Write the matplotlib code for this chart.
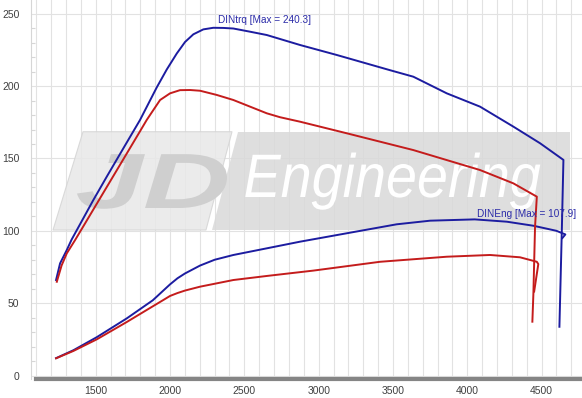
#!/usr/bin/env python3

# Dyno sheet: DIN torque / DIN power for two runs (blue = tuned, red = stock)

import numpy as np
import matplotlib
matplotlib.use("Agg")
import matplotlib.pyplot as plt
from matplotlib.textpath import TextPath
from matplotlib.patches import PathPatch, Polygon
from matplotlib.font_manager import FontProperties
from matplotlib.transforms import Affine2D
from matplotlib.ticker import MultipleLocator

plt.rcParams['font.family'] = ['Liberation Sans', 'DejaVu Sans']

# blue run, torque
rpm_trq_blue = [1233, 1260, 1305, 1338, 1484, 1574, 1700, 1798, 1910, 1978, 2045, 2101, 2157, 2224, 2291,
                2359, 2426, 2538, 2651, 2875, 3122, 3480, 3637, 3862, 4086, 4310, 4490, 4647, 4636, 4620]
trq_blue = [66, 77.5, 86.7, 94, 121.3, 137.4, 159.5, 176.6, 199, 211.5, 222.5, 230.5, 235.8, 239.2, 240.3,
            240.2, 239.8, 237.6, 235.3, 228.4, 221.5, 211, 206.5, 195, 185.8, 172, 160.5, 149, 99.4, 33.7]

# red run, torque
rpm_trq_red = [1238, 1270, 1305, 1361, 1417, 1529, 1650, 1798, 1843, 1865, 1933, 2000, 2067, 2135, 2202,
               2314, 2426, 2651, 2740, 2875, 3189, 3637, 4086, 4310, 4468, 4456, 4445, 4438]
trq_red = [64.8, 76, 84.4, 93.6, 103.2, 122.5, 143.3, 168.8, 176.6, 180, 190.4, 195, 197.2, 197.3, 196.8,
           193.9, 190.4, 181.2, 178.5, 175.4, 167.4, 155.8, 142, 132.8, 123.6, 102.8, 56.8, 37.2]

# blue run, power
rpm_pwr_blue = [1233, 1350, 1507, 1709, 1884, 2000, 2050, 2100, 2202, 2300, 2426, 2651, 2875, 3189, 3525,
                3750, 4050, 4266, 4445, 4600, 4660, 4640]
pwr_blue = [12, 17.5, 26.5, 39.5, 52, 63, 67.2, 70.5, 76, 80, 83.3, 87.9, 92.5, 98.3, 104.5,
            107, 107.9, 106.3, 103.5, 100, 97.5, 95]

# red run, power
rpm_pwr_red = [1233, 1350, 1507, 1709, 1843, 1955, 2000, 2050, 2100, 2202, 2426, 2651, 2964, 3413, 3862,
               4153, 4355, 4468, 4478, 4450]
pwr_red = [11.9, 17, 25, 37, 45.3, 52.2, 55, 57, 58.7, 61.4, 66, 68.8, 72.5, 78.6, 82.1,
           83.3, 81.7, 78.6, 77, 58]

x_ticks = [1500, 2000, 2500, 3000, 3500, 4000, 4500]
y_ticks = [0, 50, 100, 150, 200, 250]

BLUE = '#1c1ca0'
RED = '#c41c1c'


# Draws a stretched italic text shape into a box given in axes fraction
def logo_text(ax, s, x0, y0, w, h, weight, color):
    tp = TextPath((0, 0), s, size=1, prop=FontProperties(family='Liberation Sans', style='italic', weight=weight))
    bb = tp.get_extents()
    tr = Affine2D().translate(-bb.x0, 0).scale(w / bb.width, h / 0.716).translate(x0, y0) + ax.transAxes
    ax.add_patch(PathPatch(tp, transform=tr, fc=color, ec='none', zorder=1.5))


fig = plt.figure(figsize=(5.82, 3.98), dpi=100)
ax = fig.add_axes([30.5 / 582, 19 / 398, 1 - 30.5 / 582, 379 / 398])

ax.set_xlim(1061, 4772)
ax.set_ylim(-2.4, 259.5)

# watermark
ax.add_patch(Polygon([(0.0952, 0.6525), (0.3654, 0.6525), (0.3182, 0.3931), (0.0408, 0.3931)],
                     closed=True, transform=ax.transAxes, fc='#e8e8e8', ec='#d4d4d4', lw=0.8, alpha=0.85, zorder=1))
ax.add_patch(Polygon([(0.3763, 0.6525), (0.9782, 0.6525), (0.9782, 0.3931), (0.3291, 0.3931)],
                     closed=True, transform=ax.transAxes, fc='#d9d9d9', ec='none', alpha=0.85, zorder=1))
logo_text(ax, "JD", 0.0843, 0.4512, 0.272, 0.1478, 'bold', '#cfcfcf')
logo_text(ax, "Engineering", 0.3894, 0.4802, 0.535, 0.116, 'normal', 'white')

ax.plot(rpm_trq_blue, trq_blue, color=BLUE, lw=1.4, zorder=3)
ax.plot(rpm_pwr_blue, pwr_blue, color=BLUE, lw=1.4, zorder=3)
ax.plot(rpm_trq_red, trq_red, color=RED, lw=1.4, zorder=3)
ax.plot(rpm_pwr_red, pwr_red, color=RED, lw=1.4, zorder=3)

# max labels
i = int(np.argmax(trq_blue))
ax.annotate("DINtrq [Max = %.1f]" % trq_blue[i], (rpm_trq_blue[i], trq_blue[i]), xytext=(3.5, 2),
            textcoords='offset points', ha='left', va='bottom', fontsize=7.2, color='#2a2aa8', zorder=4)
i = int(np.argmax(pwr_blue))
ax.annotate("DINEng [Max = %.1f]" % pwr_blue[i], (rpm_pwr_blue[i], pwr_blue[i]), xytext=(2, 0.5),
            textcoords='offset points', ha='left', va='bottom', fontsize=7.2, color='#2a2aa8', zorder=4)

# grid and axes styling
ax.xaxis.set_major_locator(plt.FixedLocator(x_ticks))
ax.xaxis.set_minor_locator(MultipleLocator(100))
ax.yaxis.set_major_locator(plt.FixedLocator(y_ticks))
ax.yaxis.set_minor_locator(MultipleLocator(10))
ax.grid(which='both', axis='x', color='#e2e2e2', lw=0.8, zorder=0)
ax.grid(which='major', axis='y', color='#e2e2e2', lw=0.8, zorder=0)
ax.set_axisbelow(True)

for s in ['top', 'right']:
    ax.spines[s].set_visible(False)
ax.spines['left'].set_color('#d6d6d6')
ax.spines['left'].set_linewidth(0.8)
ax.spines['bottom'].set_color('#858585')
ax.spines['bottom'].set_linewidth(3)
ax.spines['bottom'].set_bounds(1100, 4772)

ax.tick_params(axis='x', which='major', colors='white', length=4, width=0.8, direction='inout',
               labelcolor='#404040', labelsize=7.5, pad=3)
ax.tick_params(axis='x', which='minor', length=0)
ax.tick_params(axis='y', which='major', length=0, labelcolor='#404040', labelsize=7.5, pad=8)
ax.tick_params(axis='y', which='minor', direction='in', length=3, width=0.8, color='#d6d6d6')

fig.savefig("out.png", dpi=100)
